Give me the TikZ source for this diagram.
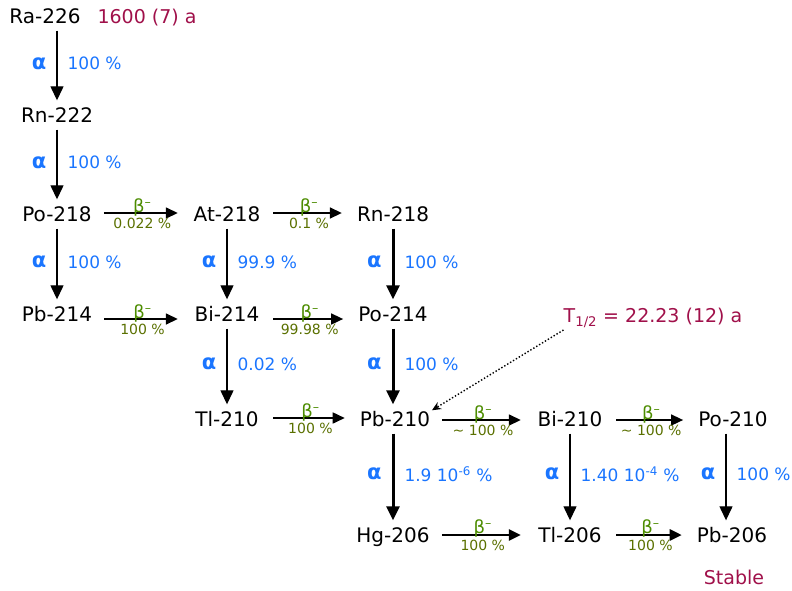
\documentclass[tikz,border=0pt]{standalone}
\usepackage{fontspec}
\setmainfont{DejaVu Sans}
\usetikzlibrary{arrows.meta}

\definecolor{alphablue}{RGB}{26,117,255}
\definecolor{betagreen}{RGB}{76,140,0}
\definecolor{pcgreen}{RGB}{90,112,0}
\definecolor{halfred}{RGB}{160,16,74}

\begin{document}
\begin{tikzpicture}[x=1pt,y=-1pt,
  nuc/.style={inner sep=0,minimum width=68pt,text height=15pt,text depth=4pt,font=\fontsize{20}{24}\selectfont},
  note/.style={inner sep=0,text=halfred,font=\fontsize{19}{22}\selectfont},
  dec/.style={-{Triangle[length=14pt,width=13pt]},line width=1.3pt,shorten <=3pt,shorten >=7pt},
  dech/.style={dec,line width=3pt},
  bet/.style={-{Triangle[length=12pt,width=11pt]},line width=1.6pt,shorten <=12pt,shorten >=15pt},
  beth/.style={bet,line width=2.6pt},
  al/.style={text=alphablue,font=\fontsize{17}{20}\selectfont,inner sep=0},
  alf/.style={al,font=\fontsize{21}{24}\selectfont\bfseries},
  bl/.style={text=betagreen,font=\fontsize{18}{20}\selectfont,inner sep=0},
  pl/.style={text=pcgreen,font=\fontsize{14}{16}\selectfont,inner sep=0}]
\useasboundingbox (0,0) rectangle (792,590);
% nuclides
\node[nuc] (ra226) at (45,18) {Ra-226};
\node[nuc] (rn222) at (57,117) {Rn-222};
\node[nuc] (po218) at (57,216) {Po-218};
\node[nuc] (pb214) at (57,316) {Pb-214};
\node[nuc] (at218) at (227,216) {At-218};
\node[nuc] (bi214) at (227,316) {Bi-214};
\node[nuc] (tl210) at (227,421) {Tl-210};
\node[nuc] (rn218) at (393,216) {Rn-218};
\node[nuc] (po214) at (393,316) {Po-214};
\node[nuc] (pb210) at (395,421) {Pb-210};
\node[nuc] (hg206) at (393,537) {Hg-206};
\node[nuc] (bi210) at (570,421) {Bi-210};
\node[nuc] (tl206) at (570,537) {Tl-206};
\node[nuc] (po210) at (733,421) {Po-210};
\node[nuc] (pb206) at (732,537) {Pb-206};
% half-lives
\node[note] (raT) at (147,18) {1600 (7) a};
\node[note] (pbT) at (653,318) {T\textsubscript{1/2} = 22.23 (12) a};
\node[note] (stable) at (734,577) {Stable};
% alpha decays
\draw[dec] (rn222.north |- ra226.south) -- node[alf,pos=.45,left=10pt] {α} node[al,pos=.45,right=10pt] {100 \%} (rn222.north);
\draw[dec] (rn222) -- node[alf,pos=.45,left=10pt] {α} node[al,pos=.45,right=10pt] {100 \%} (po218);
\draw[dec] (po218) -- node[alf,pos=.45,left=10pt] {α} node[al,pos=.45,right=10pt] {100 \%} (pb214);
\draw[dec] (at218) -- node[alf,pos=.45,left=10pt] {α} node[al,pos=.45,right=10pt] {99.9 \%} (bi214);
\draw[dec] (bi214) -- node[alf,pos=.45,left=10pt] {α} node[al,pos=.45,right=10pt] {0.02 \%} (tl210);
\draw[dech] (rn218) -- node[alf,pos=.45,left=10pt] {α} node[al,pos=.45,right=10pt] {100 \%} (po214);
\draw[dech] (po214) -- node[alf,pos=.45,left=10pt] {α} node[al,pos=.45,right=10pt] {100 \%} (po214 |- pb210.north);
\draw[dech] (pb210.south -| hg206) -- node[alf,pos=.45,left=10pt] {α} node[al,pos=.45,right=10pt] {1.9 10\textsuperscript{-6} \%} (hg206);
\draw[dec] (bi210) -- node[alf,pos=.45,left=10pt] {α} node[al,pos=.45,right=10pt] {1.40 10\textsuperscript{-4} \%} (tl206);
\draw[dec] ([xshift=-7pt]po210.south) -- node[alf,pos=.45,left=10pt] {α} node[al,pos=.45,right=10pt] {100 \%} ([xshift=-6pt]pb206.north);
% beta decays
\draw[bet] ([yshift=3pt]po218.east) -- node[bl,above=-4pt] {β\textsuperscript{–}} node[pl,below=4pt] {0.022 \%} ([yshift=3pt]at218.west);
\draw[bet] ([yshift=3pt]at218.east) -- node[bl,above=-4pt] {β\textsuperscript{–}} node[pl,below=4pt] {0.1 \%} ([yshift=3pt]rn218.west);
\draw[bet] ([yshift=-3pt]pb214.east) -- node[bl,above=-4pt] {β\textsuperscript{–}} node[pl,below=4pt] {100 \%} ([yshift=-3pt]bi214.west);
\draw[bet] ([yshift=-3pt]bi214.east) -- node[bl,above=-4pt] {β\textsuperscript{–}} node[pl,below=4pt] {99.98 \%} ([yshift=-3pt]po214.west);
\draw[bet] ([yshift=3pt]tl210.east) -- node[bl,above=-4pt] {β\textsuperscript{–}} node[pl,below=4pt] {100 \%} ([yshift=3pt]pb210.west);
\draw[bet] ([yshift=1pt]pb210.east) -- node[bl,above=-4pt] {β\textsuperscript{–}} node[pl,below=4pt] {\textasciitilde\ 100 \%} ([yshift=1pt]bi210.west);
\draw[bet] ([yshift=1pt]bi210.east) -- node[bl,above=-4pt] {β\textsuperscript{–}} node[pl,below=4pt] {\textasciitilde\ 100 \%} ([yshift=1pt]po210.west);
\draw[beth] ([yshift=2pt]hg206.east) -- node[bl,above=-4pt] {β\textsuperscript{–}} node[pl,below=4pt] {100 \%} ([yshift=2pt]tl206.west);
\draw[beth] ([yshift=2pt]tl206.east) -- node[bl,above=-4pt] {β\textsuperscript{–}} node[pl,below=4pt] {100 \%} ([yshift=2pt]pb206.west);
% half-life pointer
\draw[dotted,line width=1.4pt,-{Stealth[length=9pt,width=8pt]},shorten >=2pt] ([yshift=-2pt]pbT.south west) -- (pb210.north east);
\end{tikzpicture}
\end{document}
